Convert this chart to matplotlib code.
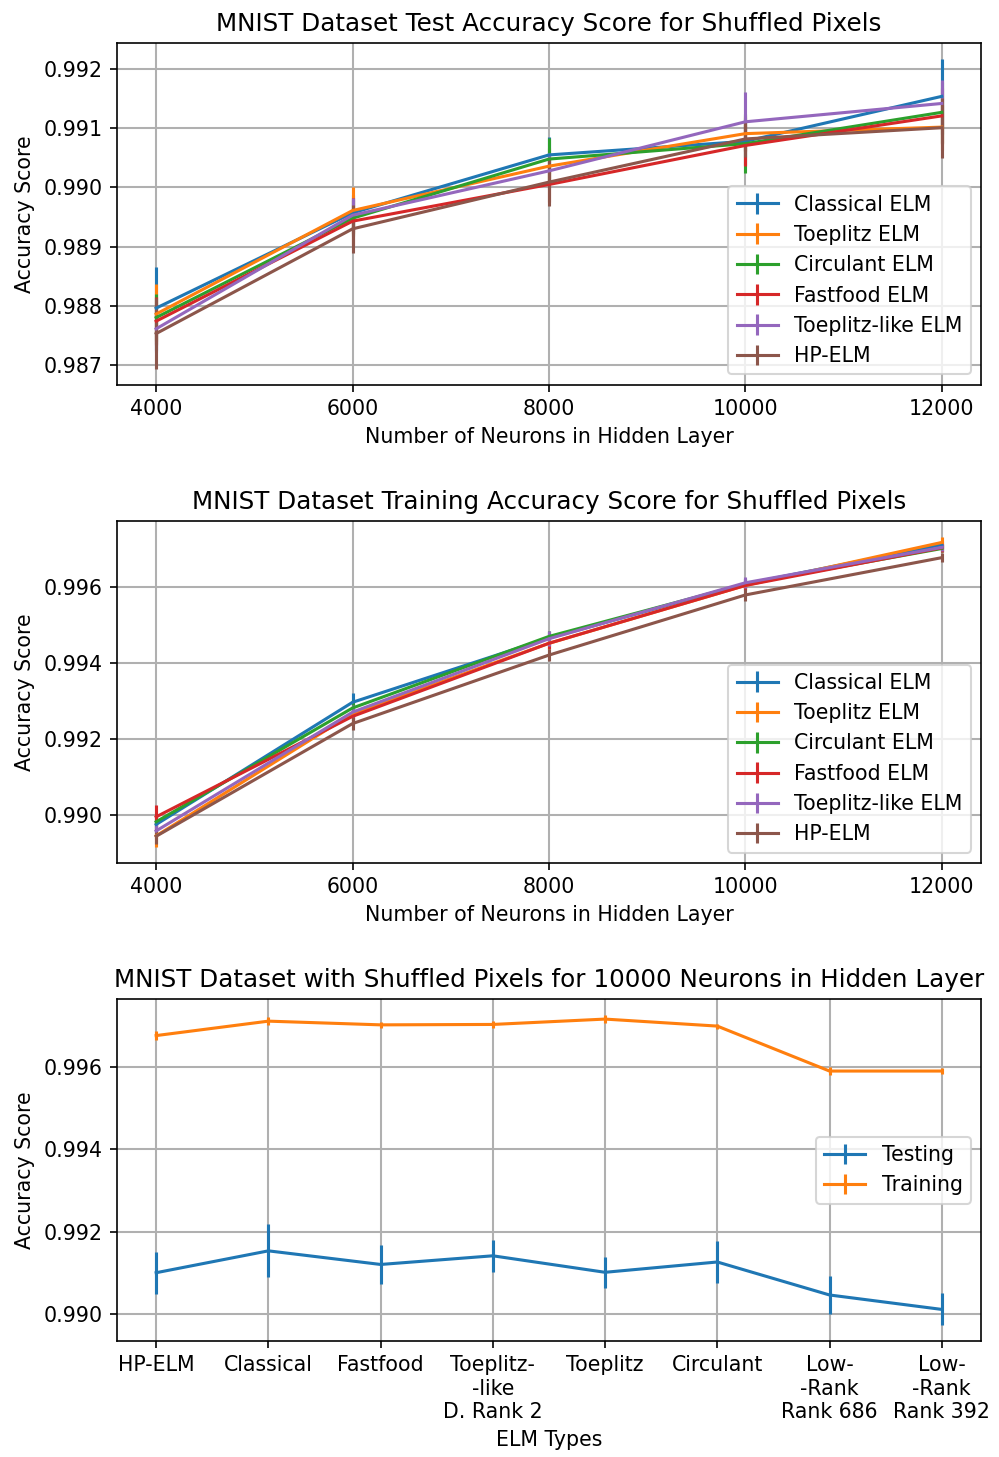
import matplotlib
matplotlib.use('Agg')
import matplotlib.pyplot as plt
import numpy as np

# ─── DATA ─────────────────────────────────────────────────────────────────────
neurons = [4000, 6000, 8000, 10000, 12000]
elm_names = ['Classical ELM', 'Toeplitz ELM', 'Circulant ELM',
             'Fastfood ELM', 'Toeplitz-like ELM', 'HP-ELM']

test_classical = [0.98796, 0.98957, 0.99055, 0.99078, 0.99154]
test_toeplitz = [0.98786, 0.98961, 0.99036, 0.99091, 0.99102]
test_circulant = [0.98780, 0.98948, 0.99048, 0.99074, 0.99127]
test_fastfood = [0.98774, 0.98943, 0.99005, 0.99071, 0.99121]
test_toeplitz_like = [0.98761, 0.98953, 0.99028, 0.99111, 0.99142]
test_hp = [0.98753, 0.98930, 0.99009, 0.99082, 0.99101]

test_err_classical = [0.0007, 0.0003, 0.0003, 0.0004, 0.00064]
test_err_toeplitz = [0.0005, 0.0004, 0.0003, 0.0003, 0.00038]
test_err_circulant = [0.0004, 0.0003, 0.00035, 0.0005, 0.00051]
test_err_fastfood = [0.0004, 0.0004, 0.0003, 0.00035, 0.00047]
test_err_toeplitz_like = [0.0004, 0.0003, 0.0003, 0.0005, 0.00039]
test_err_hp = [0.0006, 0.0004, 0.0004, 0.0003, 0.00051]

train_classical = [0.98975, 0.99296, 0.99465, 0.99607, 0.99710]
train_toeplitz = [0.98945, 0.99266, 0.99451, 0.99603, 0.99716]
train_circulant = [0.98982, 0.99281, 0.99469, 0.99607, 0.99700]
train_fastfood = [0.98995, 0.99259, 0.99451, 0.99603, 0.99702]
train_toeplitz_like = [0.98958, 0.99270, 0.99463, 0.99610, 0.99703]
train_hp = [0.98944, 0.99240, 0.99420, 0.99578, 0.99676]

train_err_classical = [0.0002, 0.00025, 0.00015, 0.00012, 0.00010]
train_err_toeplitz = [0.0003, 0.0002, 0.00015, 0.00012, 0.00015]
train_err_circulant = [0.0002, 0.0002, 0.00015, 0.00012, 0.00010]
train_err_fastfood = [0.0003, 0.0002, 0.00015, 0.00012, 0.00010]
train_err_toeplitz_like = [0.0002, 0.0002, 0.0002, 0.00015, 0.00010]
train_err_hp = [0.0002, 0.00018, 0.00015, 0.00015, 0.00012]

elm_types = ['HP-ELM', 'Classical', 'Fastfood', 'Toeplitz-\n-like\nD. Rank 2',
             'Toeplitz', 'Circulant', 'Low-\n-Rank\nRank 686', 'Low-\n-Rank\nRank 392']
type_test = [0.99101, 0.99154, 0.99121, 0.99142, 0.99102, 0.99127, 0.99047, 0.99012]
type_test_err = [0.00051, 0.00064, 0.00047, 0.00039, 0.00038, 0.00051, 0.00045, 0.00039]
type_train = [0.99676, 0.99711, 0.99702, 0.99703, 0.99716, 0.99699, 0.99590, 0.99590]
type_train_err = [0.00011, 0.00009, 0.00008, 0.00008, 0.00010, 0.00006, 0.00010, 0.00008]

test_series = [test_classical, test_toeplitz, test_circulant,
               test_fastfood, test_toeplitz_like, test_hp]
test_errs = [test_err_classical, test_err_toeplitz, test_err_circulant,
             test_err_fastfood, test_err_toeplitz_like, test_err_hp]
train_series = [train_classical, train_toeplitz, train_circulant,
                train_fastfood, train_toeplitz_like, train_hp]
train_errs = [train_err_classical, train_err_toeplitz, train_err_circulant,
              train_err_fastfood, train_err_toeplitz_like, train_err_hp]

DPI = 148
LW = 1.5
fmt = matplotlib.ticker.FormatStrFormatter('%.3f')

fig, (ax1, ax2, ax3) = plt.subplots(3, 1, figsize=(999 / DPI, 1457 / DPI), dpi=DPI)
fig.subplots_adjust(left=0.117, right=0.982, top=0.9705, bottom=0.0796, hspace=0.40)


def neuron_panel(ax, series, errs, title):
    for name, vals, err in zip(elm_names, series, errs):
        ax.errorbar(neurons, vals, yerr=err, label=name, linewidth=LW)
    ax.set_title(title, fontsize=12)
    ax.set_xlabel('Number of Neurons in Hidden Layer')
    ax.set_ylabel('Accuracy Score')
    ax.set_xticks([4000, 6000, 8000, 10000, 12000])
    ax.grid(True, color='#b0b0b0', linewidth=1.0)
    ax.legend(loc='lower right', fontsize=10)


neuron_panel(ax1, test_series, test_errs,
             'MNIST Dataset Test Accuracy Score for Shuffled Pixels')
ax1.set_yticks([0.987, 0.988, 0.989, 0.990, 0.991, 0.992])
ax1.yaxis.set_major_formatter(fmt)

neuron_panel(ax2, train_series, train_errs,
             'MNIST Dataset Training Accuracy Score for Shuffled Pixels')
ax2.set_yticks([0.990, 0.992, 0.994, 0.996])
ax2.yaxis.set_major_formatter(fmt)

# bottom panel: comparison of ELM types
pos = np.arange(len(elm_types))
ax3.errorbar(pos, type_test, yerr=type_test_err, label='Testing', linewidth=LW)
ax3.errorbar(pos, type_train, yerr=type_train_err, label='Training', linewidth=LW)
ax3.set_xticks(pos)
ax3.set_xticklabels(elm_types)
ax3.set_yticks([0.990, 0.992, 0.994, 0.996])
ax3.yaxis.set_major_formatter(fmt)
ax3.set_title('MNIST Dataset with Shuffled Pixels for 10000 Neurons in Hidden Layer', fontsize=12)
ax3.set_xlabel('ELM Types')
ax3.set_ylabel('Accuracy Score')
ax3.grid(True, color='#b0b0b0', linewidth=1.0)
ax3.legend(loc='center right', fontsize=10)

plt.savefig('out.png', dpi=DPI)
plt.close()
